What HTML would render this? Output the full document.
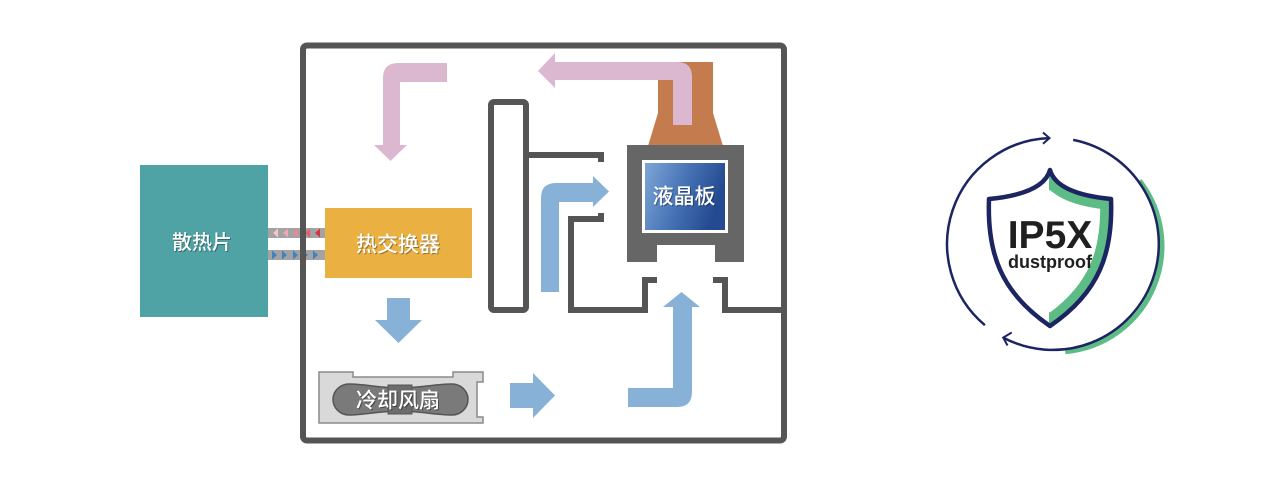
<!DOCTYPE html>
<html>
<head>
<meta charset="utf-8">
<style>
  html,body{margin:0;padding:0;background:#fff;}
  body{width:1269px;height:502px;overflow:hidden;}
  svg{display:block;}
  .cn{font-family:"Liberation Sans","Noto Sans CJK SC",sans-serif;font-weight:500;}
</style>
</head>
<body>
<svg width="1269" height="502" viewBox="0 0 1269 502" xmlns="http://www.w3.org/2000/svg">
  <defs>
    <linearGradient id="lcd" x1="0" y1="0" x2="1" y2="0.3">
      <stop offset="0" stop-color="#7ea6d6"/>
      <stop offset="0.55" stop-color="#4571b4"/>
      <stop offset="1" stop-color="#244a91"/>
    </linearGradient>
    <clipPath id="shieldIn">
      <path d="M1050,170 C1045,188 1020,196 989,199 C987,252 1000,292 1050,326 C1100,292 1113,252 1111,199 C1080,196 1055,188 1050,170 Z"/>
    </clipPath>
    <clipPath id="rightHalf">
      <rect x="1049" y="150" width="80" height="200"/>
    </clipPath>
  </defs>

  <!-- Heat sink -->
  <rect x="140" y="165" width="128" height="152" fill="#4fa3a5"/>
  <text class="cn" x="203" y="244" font-size="20" fill="#000" fill-opacity="0.35" text-anchor="middle" dominant-baseline="central">散热片</text>
  <text class="cn" x="202" y="243" font-size="20" fill="#fff" text-anchor="middle" dominant-baseline="central">散热片</text>

  <!-- Pipes -->
  <rect x="268" y="228" width="58" height="10" fill="#a3a3a3"/>
  <rect x="268" y="250" width="58" height="10" fill="#a3a3a3"/>
  <polygon points="278,228.5 273,233 278,237.5" fill="#f4c6cc"/>
  <polygon points="288,228.5 283,233 288,237.5" fill="#efa9b2"/>
  <polygon points="298,228.5 293,233 298,237.5" fill="#e88a96"/>
  <polygon points="310,228.5 305,233 310,237.5" fill="#e2606e"/>
  <polygon points="320,228.5 315,233 320,237.5" fill="#d8323f"/>
  <polygon points="272,250.5 277,255 272,259.5" fill="#3f82c2"/>
  <polygon points="282,250.5 287,255 282,259.5" fill="#3f82c2"/>
  <polygon points="293,250.5 298,255 293,259.5" fill="#3f82c2"/>
  <polygon points="303,250.5 308,255 303,259.5" fill="#3f82c2"/>
  <polygon points="313,250.5 318,255 313,259.5" fill="#3f82c2"/>

  <!-- Outer frame -->
  <rect x="303" y="45.5" width="481" height="395" rx="4" fill="none" stroke="#555" stroke-width="6"/>

  <!-- Heat exchanger -->
  <rect x="325" y="208" width="147" height="70" fill="#ebb042"/>
  <text class="cn" x="399" y="246" font-size="21" fill="#000" fill-opacity="0.35" text-anchor="middle" dominant-baseline="central">热交换器</text>
  <text class="cn" x="398" y="245" font-size="21" fill="#fff" text-anchor="middle" dominant-baseline="central">热交换器</text>

  <!-- Pink L arrow (top-left) -->
  <path d="M447,63 L398,63 Q383,63 383,78 L383,145 L374,145 L390.5,161 L407,145 L400,145 L400,82 L447,82 Z" fill="#dbb8cf"/>

  <!-- Tall rect -->
  <rect x="491" y="102" width="35" height="208" rx="3" fill="#fff" stroke="#555" stroke-width="6"/>

  <!-- Duct lines -->
  <polyline points="527,155 601,155 601,162" fill="none" stroke="#555" stroke-width="6"/>
  <polyline points="601,213 601,219 571,219 571,310 645,310 645,280 657,280" fill="none" stroke="#555" stroke-width="6"/>
  <polyline points="713,280 725,280 725,310 784,310" fill="none" stroke="#555" stroke-width="6"/>

  <!-- Copper heatsink -->
  <path d="M658,62 L713,62 L713,113 L723,146 L648,146 L658,113 Z" fill="#c47b4d"/>

  <!-- Pink top arrow -->
  <path d="M538,71 L555,53 L555,62 L677,62 Q692,62 692,77 L692,125 L673,125 L673,80 L555,80 L555,88 Z" fill="#dbb8cf"/>

  <!-- LCD housing -->
  <path d="M627,145 L744,145 L744,262 L715,262 L715,245 L657,245 L657,262 L627,262 Z" fill="#666"/>
  <rect x="642" y="160" width="86" height="73" fill="#fff"/>
  <rect x="645" y="163" width="80" height="67" fill="url(#lcd)"/>
  <text class="cn" x="685" y="198" font-size="21" fill="#000" fill-opacity="0.35" text-anchor="middle" dominant-baseline="central">液晶板</text>
  <text class="cn" x="684" y="197" font-size="21" fill="#fff" text-anchor="middle" dominant-baseline="central">液晶板</text>

  <!-- Blue arrows -->
  <path d="M541,292 L541,198 Q541,183 556,183 L593,183 L593,176 L609,191.5 L593,207 L593,202 L559,202 L559,292 Z" fill="#88b1d8"/>
  <path d="M387,298 L410,298 L410,320 L422,320 L398.5,343 L375,320 L387,320 Z" fill="#88b1d8"/>
  <path d="M510,383 L533,383 L533,373 L555,395.5 L533,418 L533,408 L510,408 Z" fill="#88b1d8"/>
  <path d="M628,388 L673,388 L673,307 L663,307 L681.5,292 L700,307 L692,307 L692,392 Q692,407 677,407 L628,407 Z" fill="#88b1d8"/>

  <!-- Fan -->
  <path d="M319,372 L353,372 L353,377 L453,377 L453,372 L483,372 L483,382 L477,382 L477,417 L483,417 L483,423 L319,423 Z" fill="#d9d9d9" stroke="#8a8a8a" stroke-width="1.5"/>
  <path d="M349,384 C365,384 380,388 400,388 C420,388 435,384 452,384 A16,15.5 0 0 1 452,415 C435,415 420,411 400,411 C380,411 365,415 349,415 A16,15.5 0 0 1 349,384 Z" fill="#7a7a7a" stroke="#555" stroke-width="1.5"/>
  <rect x="388" y="385" width="24" height="29" fill="#6c6c6c" stroke="#555" stroke-width="1"/>
  <text class="cn" x="399" y="402" font-size="21" fill="#000" fill-opacity="0.4" text-anchor="middle" dominant-baseline="central">冷却风扇</text>
  <text class="cn" x="398" y="401" font-size="21" fill="#fff" text-anchor="middle" dominant-baseline="central">冷却风扇</text>

  <!-- IP5X logo -->
  <!-- green shadow arc -->
  <path d="M1139.5,180.7 A106,106 0 0 1 1065.2,351.6" fill="none" stroke="#5dbb85" stroke-width="5"/>
  <!-- arcs -->
  <path d="M984.9,325.2 A106,106 0 0 1 1049.3,138.1" fill="none" stroke="#1c2461" stroke-width="2.5"/>
  <polyline points="1043,132.5 1049.5,138.1 1043,143.7" fill="none" stroke="#1c2461" stroke-width="2"/>
  <path d="M1073.2,139.9 A106,106 0 1 1 1003.2,337.6" fill="none" stroke="#1c2461" stroke-width="2.5"/>
  <polyline points="1011.7,332.5 1003.2,337.6 1007.5,345.5" fill="none" stroke="#1c2461" stroke-width="2"/>

  <!-- shield -->
  <path d="M1050,170 C1045,188 1020,196 989,199 C987,252 1000,292 1050,326 C1100,292 1113,252 1111,199 C1080,196 1055,188 1050,170 Z" fill="#fff"/>
  <g clip-path="url(#shieldIn)">
    <g clip-path="url(#rightHalf)">
      <path d="M1050,170 C1045,188 1020,196 989,199 C987,252 1000,292 1050,326 C1100,292 1113,252 1111,199 C1080,196 1055,188 1050,170 Z" fill="none" stroke="#5dbb85" stroke-width="22"/>
    </g>
  </g>
  <path d="M1050,170 C1045,188 1020,196 989,199 C987,252 1000,292 1050,326 C1100,292 1113,252 1111,199 C1080,196 1055,188 1050,170 Z" fill="none" stroke="#1c2461" stroke-width="4.5" stroke-linejoin="round"/>

  <text x="1050" y="248" font-family="Liberation Sans, sans-serif" font-weight="bold" font-size="39" fill="#1f1f1f" text-anchor="middle">IP5X</text>
  <text x="1050" y="268" font-family="Liberation Sans, sans-serif" font-weight="bold" font-size="18" fill="#1f1f1f" text-anchor="middle">dustproof</text>
</svg>
</body>
</html>
